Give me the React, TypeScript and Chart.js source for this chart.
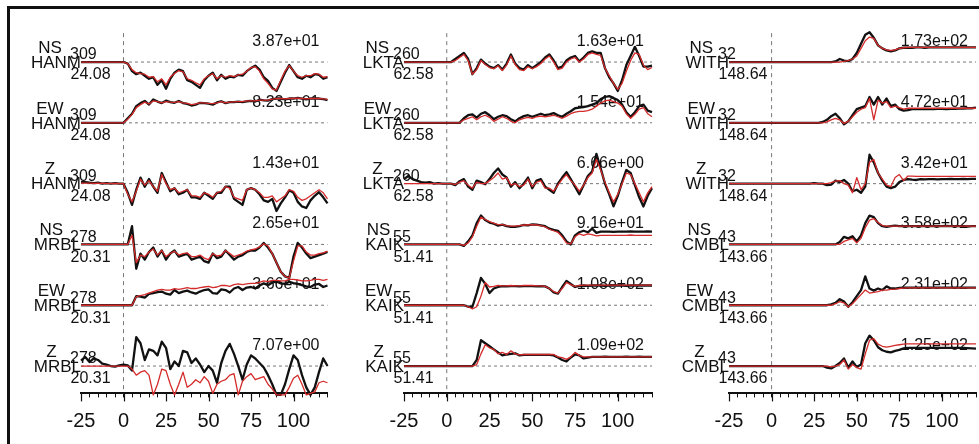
import React, { useEffect, useRef } from "react";
import { Chart, registerables } from "chart.js";

Chart.register(...registerables);

const FONT = '"Liberation Sans", Arial, Helvetica, sans-serif';

const TIME = [
  -25, -22.5, -20, -17.5, -15, -12.5, -10, -7.5, -5, -2.5,
  0, 2.5, 5, 7.5, 10, 12.5, 15, 17.5, 20, 22.5,
  25, 27.5, 30, 32.5, 35, 37.5, 40, 42.5, 45, 47.5,
  50, 52.5, 55, 57.5, 60, 62.5, 65, 67.5, 70, 72.5,
  75, 77.5, 80, 82.5, 85, 87.5, 90, 92.5, 95, 97.5,
  100, 102.5, 105, 107.5, 110, 112.5, 115, 117.5, 120,
];

const MAJOR_TICKS = [-25, 0, 25, 50, 75, 100];
const COMPS = ["NS", "EW", "Z"];

// ---------- Column 1: HANM, MRBL ----------
const HANM_NS_OBS = [
  0, 0, 0, 0, 0, 0, 0, 0, 0, 0,
  0, -0.05, -0.3, -0.4, -0.35, -0.45, -0.55, -0.5, -0.75, -0.6,
  -0.88, -0.55, -0.35, -0.25, -0.3, -0.6, -0.65, -0.75, -0.85, -0.6,
  -0.45, -0.35, -0.6, -0.42, -0.55, -0.48, -0.5, -0.42, -0.45, -0.3,
  -0.2, -0.12, -0.25, -0.5, -0.62, -0.85, -0.95, -0.65, -0.35, -0.1,
  -0.3, -0.5, -0.55, -0.45, -0.5, -0.4, -0.42, -0.55, -0.5,
];
const HANM_NS_SYN = [
  0, 0, 0, 0, 0, 0, 0, 0, 0, 0,
  0, -0.05, -0.25, -0.35, -0.38, -0.4, -0.5, -0.48, -0.65, -0.55,
  -0.75, -0.5, -0.38, -0.28, -0.32, -0.55, -0.6, -0.68, -0.75, -0.55,
  -0.45, -0.38, -0.55, -0.45, -0.5, -0.45, -0.48, -0.42, -0.4, -0.3,
  -0.18, -0.15, -0.3, -0.55, -0.7, -0.88, -0.92, -0.6, -0.3, -0.12,
  -0.3, -0.45, -0.5, -0.45, -0.45, -0.38, -0.4, -0.5, -0.48,
];
const HANM_EW_OBS = [
  0, 0, 0, 0, 0, 0, 0, 0, 0, 0,
  0, 0.15, 0.3, 0.55, 0.65, 0.72, 0.6, 0.77, 0.7, 0.65,
  0.73, 0.68, 0.66, 0.72, 0.65, 0.62, 0.57, 0.6, 0.66, 0.65,
  0.63, 0.6, 0.67, 0.71, 0.65, 0.68, 0.68, 0.7, 0.68, 0.71,
  0.72, 0.7, 0.76, 0.74, 0.73, 0.78, 0.8, 0.8, 0.77, 0.8,
  0.8, 0.82, 0.8, 0.77, 0.8, 0.8, 0.8, 0.78, 0.75,
];
const HANM_EW_SYN = [
  0, 0, 0, 0, 0, 0, 0, 0, 0, 0,
  0, 0.12, 0.28, 0.5, 0.6, 0.68, 0.62, 0.72, 0.7, 0.66,
  0.7, 0.68, 0.67, 0.7, 0.66, 0.64, 0.6, 0.62, 0.66, 0.66,
  0.64, 0.63, 0.66, 0.7, 0.66, 0.68, 0.69, 0.7, 0.7, 0.72,
  0.72, 0.72, 0.75, 0.75, 0.75, 0.78, 0.8, 0.8, 0.79, 0.8,
  0.8, 0.81, 0.8, 0.79, 0.8, 0.8, 0.8, 0.79, 0.77,
];
const HANM_Z_OBS = [
  0.05, 0.05, 0.03, 0.02, 0.03, 0, 0.02, 0, 0.02, 0,
  0, -0.3, -0.7, -0.2, 0.2, -0.1, 0.15, -0.1, -0.3, 0.35,
  0.05, -0.25, -0.15, -0.35, -0.3, -0.2, -0.45, -0.45, -0.5, -0.3,
  -0.4, -0.5, -0.3, -0.3, -0.1, -0.1, -0.5, -0.6, -0.7, -0.2,
  -0.15, -0.2, -0.35, -0.55, -0.6, -0.5, -0.9, -0.65, -0.45, -0.22,
  -0.3, -0.6, -0.75, -0.8, -0.55, -0.4, -0.28, -0.45, -0.65,
];
const HANM_Z_SYN = [
  0.02, 0.02, 0.02, 0.01, 0.02, 0.01, 0.01, 0, 0.01, 0,
  0, -0.35, -0.6, -0.25, 0.15, -0.05, 0.1, -0.1, -0.25, 0.3,
  0, -0.2, -0.15, -0.3, -0.25, -0.2, -0.4, -0.4, -0.45, -0.3,
  -0.35, -0.45, -0.3, -0.25, -0.1, -0.15, -0.45, -0.5, -0.55, -0.2,
  -0.15, -0.2, -0.3, -0.45, -0.45, -0.4, -0.6, -0.5, -0.4, -0.2,
  -0.25, -0.45, -0.55, -0.5, -0.4, -0.3, -0.2, -0.3, -0.5,
];
const MRBL_NS_OBS = [
  0, 0, 0, 0, 0, 0, 0, 0, 0, 0,
  0, 0, 0.6, -0.8, -0.3, -0.5, -0.25, -0.1, -0.4, -0.2,
  -0.5, -0.3, -0.2, -0.4, -0.35, -0.3, -0.5, -0.45, -0.4, -0.55,
  -0.6, -0.3, -0.45, -0.4, -0.2, -0.35, -0.5, -0.4, -0.35, -0.25,
  -0.2, -0.2, -0.1, 0.05, -0.1, -0.3, -0.6, -0.9, -1.05, -1.1,
  -0.4, 0.05, -0.1, -0.3, -0.45, -0.4, -0.35, -0.3, -0.25,
];
const MRBL_NS_SYN = [
  0, 0, 0, 0, 0, 0, 0, 0, 0, 0,
  0, 0, 0.3, -0.6, -0.35, -0.4, -0.25, -0.15, -0.35, -0.2,
  -0.4, -0.3, -0.22, -0.35, -0.3, -0.28, -0.4, -0.4, -0.35, -0.45,
  -0.5, -0.3, -0.38, -0.35, -0.2, -0.3, -0.4, -0.35, -0.3, -0.22,
  -0.18, -0.15, -0.08, 0.02, -0.05, -0.3, -0.6, -0.9, -1.05, -1.1,
  -0.55, -0.05, -0.05, -0.25, -0.35, -0.35, -0.3, -0.28, -0.22,
];
const MRBL_EW_OBS = [
  0, 0, 0, 0, 0, 0, 0, 0, 0, 0,
  0, 0, 0, 0.3, 0.28, 0.25, 0.37, 0.4, 0.43, 0.45,
  0.38, 0.35, 0.5, 0.4, 0.45, 0.48, 0.42, 0.38, 0.45, 0.5,
  0.52, 0.4, 0.38, 0.52, 0.5, 0.42, 0.55, 0.6, 0.5, 0.58,
  0.6, 0.55, 0.65, 0.72, 0.66, 0.75, 0.78, 0.72, 0.7, 0.77,
  0.73, 0.7, 0.66, 0.62, 0.6, 0.68, 0.7, 0.6, 0.65,
];
const MRBL_EW_SYN = [
  0, 0, 0, 0, 0, 0, 0, 0, 0, 0,
  0, 0, 0, 0.28, 0.32, 0.35, 0.4, 0.45, 0.5, 0.52,
  0.5, 0.5, 0.55, 0.52, 0.55, 0.58, 0.55, 0.55, 0.58, 0.6,
  0.62, 0.58, 0.6, 0.65, 0.65, 0.62, 0.68, 0.7, 0.68, 0.7,
  0.72, 0.72, 0.75, 0.8, 0.78, 0.82, 0.82, 0.8, 0.8, 0.85,
  0.85, 0.83, 0.8, 0.8, 0.82, 0.85, 0.85, 0.82, 0.85,
];
const MRBL_Z_OBS = [
  0.18, 0.3, 0.13, 0.25, 0.2, 0.08, 0.05, 0, -0.02, 0.02,
  0.05, 0.02, -0.15, 0.95, 0.75, 0.2, 0.55, 0.5, 0.35, 0.8,
  0.6, -0.1, 0.15, 0, 0.5, 0.45, 0.1, 0.25, 0.05, -0.2,
  0, -0.15, -0.55, 0.1, 0.5, 0.73, 0.4, 0, -0.45, 0.05,
  0.35, 0.25, 0.1, -0.05, -0.3, -0.6, -0.95, -0.95, -0.6, -0.1,
  0.35, 0.2, -0.3, -0.7, -0.95, -0.7, -0.2, 0.25, 0,
];
const MRBL_Z_SYN = [
  0, 0, 0, 0, 0, 0, 0, 0, 0, 0,
  0, 0, -0.1, -0.3, -0.2, -0.15, -0.3, -0.95, -0.6, -0.1,
  -0.15, -0.6, -0.95, -0.6, -0.2, -0.7, -0.6, -0.45, -0.55, -0.35,
  -0.5, -0.9, -0.6, -0.5, -0.45, -0.3, -0.25, -0.95, -0.5, -0.35,
  -0.25, -0.45, -0.4, -0.35, -0.6, -0.75, -0.95, -0.95, -0.95, -0.7,
  -0.4, -0.3, -0.6, -0.95, -0.9, -0.85, -0.55, -0.5, -0.55,
];

// ---------- Column 2: LKTA, KAIK ----------
const LKTA_NS_OBS = [
  0, 0, 0, 0, 0, 0, 0, 0, 0, 0,
  0, 0, 0.1, 0.2, 0.3, 0.1, -0.4, -0.2, 0.08, -0.05,
  -0.15, -0.2, -0.1, -0.25, -0.05, 0.25, -0.05, -0.2, -0.25, -0.1,
  -0.2, -0.1, 0, 0.15, 0.25, 0.05, -0.2, -0.15, 0.05, 0.15,
  0.2, 0.02, 0.15, 0.3, 0.35, 0.3, 0.3, -0.2, -0.5, -0.7,
  -0.95, -0.6, -0.1, 0.2, 0.5, 0.2, -0.15, -0.15, -0.12,
];
const LKTA_NS_SYN = [
  0, 0, 0, 0, 0, 0, 0, 0, 0, 0,
  0, 0, 0.05, 0.15, 0.25, 0.05, -0.4, -0.25, 0.05, -0.08,
  -0.18, -0.22, -0.12, -0.28, -0.1, 0.2, -0.08, -0.25, -0.28, -0.15,
  -0.22, -0.15, -0.05, 0.1, 0.2, 0, -0.25, -0.2, 0, 0.1,
  0.15, 0, 0.1, 0.25, 0.3, 0.25, 0.22, -0.2, -0.45, -0.7,
  -0.9, -0.7, -0.3, 0.05, 0.3, 0.25, -0.1, -0.25, -0.18,
];
const LKTA_EW_OBS = [
  0, 0, 0, 0, 0, 0, 0, 0, 0, 0,
  0, 0, 0, 0, 0.15, 0.25, 0.28, 0.17, 0.3, 0.35,
  0.25, 0.12, 0.2, 0.25, 0.22, 0.12, 0.05, 0.15, 0.22, 0.25,
  0.2, 0.25, 0.3, 0.25, 0.28, 0.32, 0.25, 0.2, 0.3, 0.38,
  0.48, 0.5, 0.52, 0.55, 0.6, 0.65, 0.78, 0.85, 0.88, 0.82,
  0.75, 0.6, 0.35, 0.2, 0.35, 0.55, 0.6, 0.4, 0.35,
];
const LKTA_EW_SYN = [
  0, 0, 0, 0, 0, 0, 0, 0, 0, 0,
  0, 0, 0, 0, 0.1, 0.15, 0.2, 0.1, 0.2, 0.25,
  0.18, 0.05, 0.12, 0.2, 0.15, 0.05, 0, 0.1, 0.15, 0.18,
  0.15, 0.2, 0.22, 0.2, 0.22, 0.25, 0.2, 0.15, 0.22, 0.3,
  0.35, 0.38, 0.38, 0.4, 0.45, 0.55, 0.65, 0.72, 0.75, 0.7,
  0.65, 0.55, 0.3, 0.15, 0.28, 0.45, 0.5, 0.3, 0.2,
];
const LKTA_Z_OBS = [
  0.15, 0.25, 0.15, 0.1, 0.05, 0.03, 0.05, 0, 0.02, 0,
  0, 0, -0.05, 0.08, 0.15, -0.1, -0.2, 0.1, 0.05, -0.02,
  0.15, 0.35, 0.5, 0.3, 0.2, -0.1, 0.05, -0.15, 0, 0.2,
  -0.15, 0.1, 0.15, -0.1, -0.2, -0.3, 0, 0.2, 0.38, 0.15,
  -0.1, -0.35, -0.05, 0.25, 0.4, 0.98, 0.5, 0, -0.35, -0.75,
  -0.4, 0.05, 0.45, 0.35, -0.05, -0.45, -0.75, -0.4, -0.15,
];
const LKTA_Z_SYN = [
  0, 0, 0, 0, 0, 0, 0, 0, 0, 0,
  0, 0, -0.03, 0.05, 0.1, -0.05, -0.15, 0.05, 0, 0,
  0.1, 0.2, 0.35, 0.15, 0.2, -0.05, 0, -0.1, -0.05, 0.15,
  -0.1, 0.05, 0.1, -0.15, -0.15, -0.25, -0.05, 0.15, 0.3, 0.1,
  -0.05, -0.25, -0.05, 0.2, 0.35, 0.8, 0.45, 0.05, -0.3, -0.6,
  -0.35, 0, 0.35, 0.3, 0, -0.3, -0.6, -0.3, -0.1,
];
const KAIK_NS_OBS = [
  0, 0, 0, 0, 0, 0, 0, 0, 0, 0,
  0, 0, 0, 0, -0.05, 0.1, 0.3, 0.7, 0.95, 0.8,
  0.72, 0.68, 0.62, 0.65, 0.6, 0.58, 0.58, 0.6, 0.64, 0.63,
  0.66, 0.65, 0.63, 0.6, 0.52, 0.48, 0.45, 0.3, 0.1, 0,
  0.3, 0.4, 0.45, 0.4, 0.52, 0.38, 0.42, 0.42, 0.42, 0.41,
  0.42, 0.42, 0.42, 0.43, 0.42, 0.42, 0.42, 0.43, 0.42,
];
const KAIK_NS_SYN = [
  0, 0, 0, 0, 0, 0, 0, 0, 0, 0,
  0, 0, 0, 0, -0.03, 0.05, 0.25, 0.6, 0.9, 0.82,
  0.75, 0.7, 0.65, 0.65, 0.62, 0.6, 0.6, 0.62, 0.64, 0.64,
  0.65, 0.64, 0.62, 0.58, 0.5, 0.45, 0.4, 0.25, 0.05, 0.02,
  0.25, 0.35, 0.3, 0.35, 0.32, 0.28, 0.3, 0.3, 0.3, 0.3,
  0.3, 0.3, 0.3, 0.31, 0.3, 0.3, 0.3, 0.3, 0.3,
];
const KAIK_EW_OBS = [
  0, 0, 0, 0, 0, 0, 0, 0, 0, 0,
  0, 0, 0, 0, 0, -0.05, -0.05, 0.4, 0.9, 0.7,
  0.4, 0.55, 0.6, 0.63, 0.62, 0.63, 0.63, 0.62, 0.63, 0.63,
  0.63, 0.62, 0.63, 0.62, 0.55, 0.42, 0.38, 0.6, 0.8, 0.7,
  0.6, 0.64, 0.65, 0.64, 0.65, 0.65, 0.65, 0.64, 0.65, 0.65,
  0.65, 0.65, 0.64, 0.65, 0.65, 0.65, 0.65, 0.65, 0.65,
];
const KAIK_EW_SYN = [
  0, 0, 0, 0, 0, 0, 0, 0, 0, 0,
  0, 0, 0, 0, 0, -0.05, -0.12, -0.05, 0.3, 0.75,
  0.6, 0.62, 0.65, 0.64, 0.64, 0.65, 0.64, 0.64, 0.65, 0.65,
  0.65, 0.64, 0.64, 0.62, 0.55, 0.45, 0.4, 0.55, 0.75, 0.68,
  0.62, 0.65, 0.66, 0.66, 0.66, 0.66, 0.66, 0.66, 0.66, 0.66,
  0.66, 0.66, 0.66, 0.66, 0.66, 0.66, 0.66, 0.66, 0.66,
];
const KAIK_Z_OBS = [
  0, 0, 0, 0, 0, 0, 0, 0, 0, 0,
  0, 0, 0, 0, 0, 0, 0, 0.2, 0.85, 0.75,
  0.65, 0.55, 0.45, 0.35, 0.38, 0.4, 0.42, 0.35, 0.37, 0.37,
  0.37, 0.37, 0.37, 0.37, 0.37, 0.35, 0.28, 0.2, 0.15, 0.28,
  0.38, 0.35, 0.25, 0.28, 0.3, 0.3, 0.3, 0.31, 0.3, 0.3,
  0.3, 0.3, 0.31, 0.3, 0.3, 0.31, 0.3, 0.3, 0.3,
];
const KAIK_Z_SYN = [
  0, 0, 0, 0, 0, 0, 0, 0, 0, 0,
  0, 0, 0, 0, 0, 0, 0, 0.05, 0.4, 0.7,
  0.6, 0.55, 0.4, 0.45, 0.38, 0.5, 0.4, 0.37, 0.38, 0.38,
  0.38, 0.38, 0.38, 0.38, 0.38, 0.38, 0.3, 0.28, 0.22, 0.3,
  0.45, 0.35, 0.3, 0.3, 0.3, 0.3, 0.3, 0.3, 0.3, 0.3,
  0.3, 0.3, 0.3, 0.3, 0.3, 0.3, 0.3, 0.3, 0.3,
];

// ---------- Column 3: WITH, CMBL ----------
const WITH_NS_OBS = [
  0, 0, 0, 0, 0, 0, 0, 0, 0, 0,
  0, 0, 0, 0, 0, 0, 0, 0, 0, 0,
  0, 0, 0, 0, 0, 0.02, 0.1, 0.05, 0.03, 0.1,
  0.3, 0.6, 0.9, 0.98, 0.8, 0.55, 0.45, 0.38, 0.35, 0.38,
  0.45, 0.47, 0.47, 0.47, 0.48, 0.48, 0.47, 0.48, 0.48, 0.48,
  0.48, 0.48, 0.48, 0.48, 0.48, 0.48, 0.48, 0.48, 0.48,
];
const WITH_NS_SYN = [
  0, 0, 0, 0, 0, 0, 0, 0, 0, 0,
  0, 0, 0, 0, 0, 0, 0, 0, 0, 0,
  0, 0, 0, 0, 0, 0, 0, 0.02, 0.05, 0.1,
  0.2, 0.45, 0.7, 0.82, 0.78, 0.55, 0.45, 0.4, 0.38, 0.4,
  0.45, 0.47, 0.48, 0.48, 0.48, 0.48, 0.48, 0.48, 0.48, 0.48,
  0.48, 0.48, 0.48, 0.48, 0.48, 0.48, 0.48, 0.48, 0.48,
];
const WITH_EW_OBS = [
  0, 0, 0, 0, 0, 0, 0, 0, 0, 0,
  0, 0, 0, 0, 0, 0, 0, 0, 0, 0,
  0, 0, 0.03, 0.1, 0.22, 0.3, 0.15, -0.05, 0.05, 0.25,
  0.45, 0.5, 0.55, 0.85, 0.6, 0.85, 0.6, 0.8, 0.55, 0.6,
  0.45, 0.4, 0.42, 0.45, 0.45, 0.45, 0.46, 0.45, 0.45, 0.46,
  0.46, 0.45, 0.46, 0.46, 0.47, 0.47, 0.48, 0.48, 0.5,
];
const WITH_EW_SYN = [
  0, 0, 0, 0, 0, 0, 0, 0, 0, 0,
  0, 0, 0, 0, 0, 0, 0, 0, 0, 0,
  0, 0, 0, 0.03, 0.1, 0.15, 0.1, -0.02, 0.05, 0.2,
  0.35, 0.45, 0.5, 0.8, 0.1, 0.75, 0.65, 0.7, 0.5, 0.55,
  0.5, 0.45, 0.48, 0.48, 0.48, 0.48, 0.48, 0.48, 0.48, 0.48,
  0.48, 0.48, 0.48, 0.48, 0.48, 0.48, 0.48, 0.48, 0.48,
];
const WITH_Z_OBS = [
  0, 0, 0, 0, 0, 0, 0, 0, 0, 0,
  0, 0, 0, 0, 0, 0, 0, 0, 0, 0,
  0.02, 0, 0, -0.05, -0.03, 0.1, 0.05, 0.12, 0, -0.25,
  -0.2, -0.3, -0.1, 0.95, 0.7, 0.35, 0.1, -0.1, -0.15, -0.1,
  0.05, 0.12, 0.15, 0.13, 0.12, 0.15, 0.14, 0.15, 0.15, 0.14,
  0.15, 0.15, 0.16, 0.15, 0.15, 0.16, 0.15, 0.16, 0.16,
];
const WITH_Z_SYN = [
  0, 0, 0, 0, 0, 0, 0, 0, 0, 0,
  0, 0, 0, 0, 0, 0, 0, 0, 0, 0,
  0, 0, 0, 0, 0.03, 0.08, 0.1, 0, -0.05, -0.3,
  0.2, -0.2, 0, 0.7, 0.8, 0.35, 0.15, -0.05, -0.1, 0.2,
  0.3, 0.1, 0.25, 0.25, 0.24, 0.24, 0.24, 0.24, 0.24, 0.24,
  0.24, 0.24, 0.24, 0.24, 0.24, 0.24, 0.24, 0.24, 0.24,
];
const CMBL_NS_OBS = [
  0, 0, 0, 0, 0, 0, 0, 0, 0, 0,
  0, 0, 0, 0, 0, 0, 0, 0, 0, 0,
  0, 0, 0, 0, 0, 0, 0.08, 0.25, 0.2, 0.27,
  0.1, 0.3, 0.7, 0.95, 0.9, 0.7, 0.6, 0.58, 0.6, 0.62,
  0.6, 0.6, 0.6, 0.6, 0.6, 0.6, 0.6, 0.6, 0.6, 0.6,
  0.6, 0.61, 0.6, 0.6, 0.6, 0.6, 0.59, 0.6, 0.6,
];
const CMBL_NS_SYN = [
  0, 0, 0, 0, 0, 0, 0, 0, 0, 0,
  0, 0, 0, 0, 0, 0, 0, 0, 0, 0,
  0, 0, 0, 0, 0, 0, 0, 0.1, 0.15, 0.2,
  0.05, 0.2, 0.55, 0.8, 0.85, 0.72, 0.62, 0.6, 0.6, 0.6,
  0.6, 0.6, 0.6, 0.6, 0.6, 0.6, 0.6, 0.6, 0.6, 0.6,
  0.6, 0.6, 0.6, 0.6, 0.6, 0.6, 0.6, 0.6, 0.6,
];
const CMBL_EW_OBS = [
  0, 0, 0, 0, 0, 0, 0, 0, 0, 0,
  0, 0, 0, 0, 0, 0, 0, 0, 0, 0,
  0, 0, 0, 0, 0.03, 0.08, 0.2, 0.12, -0.05, 0.1,
  0.3, 0.5, 0.95, 0.55, 0.48, 0.55, 0.5, 0.62, 0.55, 0.55,
  0.57, 0.58, 0.58, 0.58, 0.58, 0.58, 0.58, 0.58, 0.58, 0.58,
  0.58, 0.58, 0.58, 0.58, 0.58, 0.58, 0.58, 0.58, 0.58,
];
const CMBL_EW_SYN = [
  0, 0, 0, 0, 0, 0, 0, 0, 0, 0,
  0, 0, 0, 0, 0, 0, 0, 0, 0, 0,
  0, 0, 0, 0, 0, 0.05, 0.12, 0.08, -0.05, 0.05,
  0.2, 0.35, 0.5, 0.4, 0.42, 0.45, 0.5, 0.5, 0.52, 0.53,
  0.55, 0.56, 0.57, 0.57, 0.57, 0.57, 0.57, 0.57, 0.57, 0.57,
  0.57, 0.57, 0.57, 0.57, 0.57, 0.57, 0.57, 0.57, 0.57,
];
const CMBL_Z_OBS = [
  0, 0, 0, 0, 0, 0, 0, 0, 0, 0,
  0, 0, 0, 0, 0, 0, 0, 0, 0, 0,
  0, 0, 0, -0.05, -0.08, 0, 0.1, 0.25, -0.05, 0.15,
  -0.03, 0.05, 0.75, 1.0, 0.85, 0.62, 0.52, 0.47, 0.45, 0.5,
  0.53, 0.58, 0.6, 0.6, 0.6, 0.6, 0.6, 0.6, 0.6, 0.6,
  0.6, 0.6, 0.6, 0.6, 0.6, 0.6, 0.59, 0.58, 0.57,
];
const CMBL_Z_SYN = [
  0, 0, 0, 0, 0, 0, 0, 0, 0, 0,
  0, 0, 0, 0, 0, 0, 0, 0, 0, 0,
  0, 0, 0, 0, -0.03, 0, 0.05, 0.2, -0.1, 0.05,
  -0.05, -0.1, 0.4, 0.85, 0.9, 0.72, 0.65, 0.62, 0.65, 0.68,
  0.7, 0.72, 0.73, 0.73, 0.73, 0.73, 0.73, 0.73, 0.73, 0.73,
  0.73, 0.73, 0.73, 0.73, 0.73, 0.73, 0.73, 0.73, 0.73,
];

const COL1_STATIONS = [
  { name: "HANM", az: "309", dist: "24.08" },
  { name: "MRBL", az: "278", dist: "20.31" },
];
const COL2_STATIONS = [
  { name: "LKTA", az: "260", dist: "62.58" },
  { name: "KAIK", az: "55", dist: "51.41" },
];
const COL3_STATIONS = [
  { name: "WITH", az: "32", dist: "148.64" },
  { name: "CMBL", az: "43", dist: "143.66" },
];
const COL1_AMPS = ["3.87e+01", "8.23e+01", "1.43e+01", "2.65e+01", "3.66e+01", "7.07e+00"];
const COL2_AMPS = ["1.63e+01", "1.54e+01", "6.66e+00", "9.16e+01", "1.08e+02", "1.09e+02"];
const COL3_AMPS = ["1.73e+02", "4.72e+01", "3.42e+01", "3.58e+02", "2.31e+02", "1.25e+02"];

const COL1_TRACES = [
  [HANM_NS_OBS, HANM_NS_SYN], [HANM_EW_OBS, HANM_EW_SYN], [HANM_Z_OBS, HANM_Z_SYN],
  [MRBL_NS_OBS, MRBL_NS_SYN], [MRBL_EW_OBS, MRBL_EW_SYN], [MRBL_Z_OBS, MRBL_Z_SYN],
];
const COL2_TRACES = [
  [LKTA_NS_OBS, LKTA_NS_SYN], [LKTA_EW_OBS, LKTA_EW_SYN], [LKTA_Z_OBS, LKTA_Z_SYN],
  [KAIK_NS_OBS, KAIK_NS_SYN], [KAIK_EW_OBS, KAIK_EW_SYN], [KAIK_Z_OBS, KAIK_Z_SYN],
];
const COL3_TRACES = [
  [WITH_NS_OBS, WITH_NS_SYN], [WITH_EW_OBS, WITH_EW_SYN], [WITH_Z_OBS, WITH_Z_SYN],
  [CMBL_NS_OBS, CMBL_NS_SYN], [CMBL_EW_OBS, CMBL_EW_SYN], [CMBL_Z_OBS, CMBL_Z_SYN],
];

// layout (pixels)
const PAD_L = 90;
const PAD_R = 26;
const H = 444;
const COLUMNS = [
  { stations: COL1_STATIONS, amps: COL1_AMPS, traces: COL1_TRACES, left: 81, right: 327.5 },
  { stations: COL2_STATIONS, amps: COL2_AMPS, traces: COL2_TRACES, left: 404, right: 652 },
  { stations: COL3_STATIONS, amps: COL3_AMPS, traces: COL3_TRACES, left: 729, right: 976 },
];

const ROW_GAP = 2;
const Y_MAX = 1.6;
const Y_MIN = -10.9;

function overlayPlugin(stations: any[], amps: string[]) {
  return {
    id: "seisOverlay",
    beforeDatasetsDraw(chart: any) {
      const ctx = chart.ctx;
      const xs = chart.scales.x;
      const ys = chart.scales.y;
      const L = xs.getPixelForValue(-25);
      const R = xs.getPixelForValue(120);
      ctx.save();
      ctx.fillStyle = "#111";
      ctx.textBaseline = "middle";
      for (let k = 0; k < 6; k++) {
        const st = stations[Math.floor(k / 3)];
        const comp = COMPS[k % 3];
        const Y = ys.getPixelForValue(-ROW_GAP * k);
        ctx.font = `17px ${FONT}`;
        ctx.textAlign = "right";
        ctx.fillText(st.name, L, Y + 1);
        const w = ctx.measureText(st.name).width;
        ctx.textAlign = "center";
        ctx.fillText(comp, L - w / 2 - 6, Y - 14);
        ctx.font = `16px ${FONT}`;
        ctx.textAlign = "left";
        ctx.fillText(st.az, L - 11, Y - 7);
        ctx.fillText(st.dist, L - 10.5, Y + 13);
        ctx.textAlign = "right";
        ctx.fillText(amps[k], R - 8, Y - 20.5);
      }
      ctx.restore();
    },
    afterDraw(chart: any) {
      const ctx = chart.ctx;
      const xs = chart.scales.x;
      ctx.save();
      ctx.strokeStyle = "#111";
      ctx.lineWidth = 1.2;
      for (const v of MAJOR_TICKS) {
        const px = Math.round(xs.getPixelForValue(v)) + 0.5;
        ctx.beginPath();
        ctx.moveTo(px, xs.top);
        ctx.lineTo(px, xs.top + 8);
        ctx.stroke();
      }
      ctx.restore();
    },
  };
}

function SeisColumn({ col }: { col: any }) {
  const ref = useRef<HTMLCanvasElement>(null);
  const W = Math.round(PAD_L + (col.right - col.left) + PAD_R);
  const padR = W - PAD_L - (col.right - col.left);

  useEffect(() => {
    if (!ref.current) return;
    const datasets: any[] = [];
    for (let k = 0; k < 6; k++) {
      const off = -ROW_GAP * k;
      datasets.push({
        data: [{ x: -25, y: off }, { x: 120, y: off }],
        borderColor: "#777",
        borderWidth: 1,
        borderDash: [3, 3],
        pointRadius: 0,
        order: 4,
        clip: false,
      });
    }
    datasets.push({
      data: [{ x: 0, y: 0.95 }, { x: 0, y: Y_MIN }],
      borderColor: "#777",
      borderWidth: 1,
      borderDash: [4, 4],
      pointRadius: 0,
      order: 3,
      clip: false,
    });
    col.traces.forEach((pair: number[][], k: number) => {
      const off = -ROW_GAP * k;
      datasets.push({
        data: TIME.map((t, i) => ({ x: t, y: off + pair[0][i] })),
        borderColor: "#111",
        borderWidth: 2.3,
        pointRadius: 0,
        tension: 0,
        borderJoinStyle: "round",
        order: 2,
        clip: false,
      });
      datasets.push({
        data: TIME.map((t, i) => ({ x: t, y: off + pair[1][i] })),
        borderColor: "#d42a2a",
        borderWidth: 1.3,
        pointRadius: 0,
        tension: 0,
        borderJoinStyle: "round",
        order: 1,
        clip: false,
      });
    });

    const chart = new Chart(ref.current, {
      type: "line",
      data: { datasets },
      options: {
        responsive: false,
        animation: false,
        events: [],
        layout: { padding: { left: PAD_L, right: padR, top: 13.4, bottom: 0 } },
        plugins: { legend: { display: false }, tooltip: { enabled: false } },
        scales: {
          x: {
            type: "linear",
            min: -25,
            max: 120,
            position: "bottom",
            afterFit: (s: any) => {
              s.height = 50.6;
            },
            ticks: {
              stepSize: 5,
              autoSkip: false,
              maxRotation: 0,
              includeBounds: true,
              padding: 12,
              color: "#111",
              font: { size: 20, family: FONT },
              callback: (v: any) => (Number(v) % 25 === 0 ? String(v) : ""),
            },
            grid: {
              drawOnChartArea: false,
              drawTicks: true,
              tickLength: 4,
              tickColor: "#111",
              tickWidth: 1,
            },
            border: { display: true, color: "#111", width: 2 },
          },
          y: { type: "linear", display: false, min: Y_MIN, max: Y_MAX },
        },
      } as any,
      plugins: [overlayPlugin(col.stations, col.amps)],
    });
    return () => chart.destroy();
  }, []);

  return (
    <canvas
      ref={ref}
      width={W}
      height={H}
      style={{ position: "absolute", left: col.left - PAD_L, top: 0, width: W, height: H }}
    />
  );
}

export default function App() {
  return (
    <div
      style={{
        position: "fixed",
        left: 0,
        top: 0,
        width: 979,
        height: 444,
        background: "#fff",
        overflow: "hidden",
      }}
    >
      <div
        style={{
          position: "absolute",
          left: 7,
          top: 6,
          width: 980,
          height: 450,
          borderLeft: "3px solid #111",
          borderTop: "3px solid #111",
          boxSizing: "border-box",
        }}
      />
      {COLUMNS.map((c, i) => (
        <SeisColumn key={i} col={c} />
      ))}
    </div>
  );
}
